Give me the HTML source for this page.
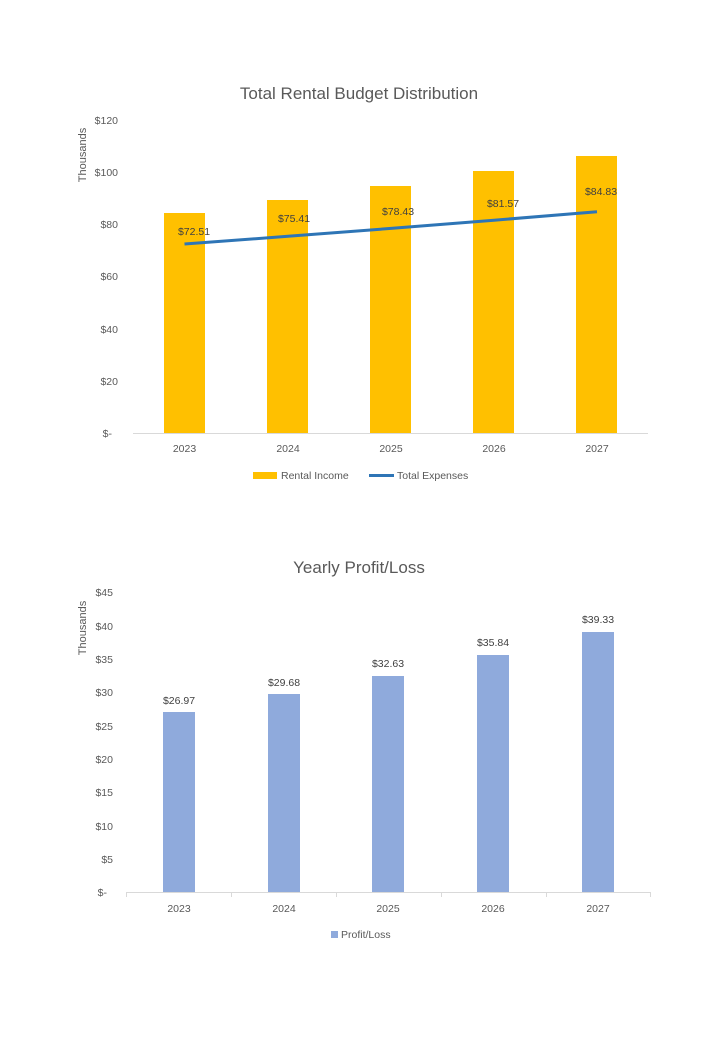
<!DOCTYPE html>
<html><head><meta charset="utf-8"><style>body{margin:0;background:#fff}svg{display:block}</style></head>
<body>
<svg width="720" height="1040" xmlns="http://www.w3.org/2000/svg" font-family="Liberation Sans, sans-serif">
<rect width="720" height="1040" fill="#fff"/>
<text x="359" y="99" text-anchor="middle" font-size="17" fill="#595959">Total Rental Budget Distribution</text>
<text transform="translate(86,155) rotate(-90)" text-anchor="middle" font-size="11" fill="#595959">Thousands</text>
<g font-size="10.5" fill="#595959" text-anchor="end">
<text x="118" y="124">$120</text><text x="118" y="176">$100</text><text x="118" y="228">$80</text>
<text x="118" y="280">$60</text><text x="118" y="333">$40</text><text x="118" y="385">$20</text><text x="112" y="437">$-</text>
</g>
<g fill="#FFC000">
<rect x="164" y="213" width="41" height="220"/><rect x="267" y="200" width="41" height="233"/>
<rect x="370" y="186" width="41" height="247"/><rect x="473" y="171" width="41" height="262"/>
<rect x="576" y="156" width="41" height="277"/>
</g>
<line x1="133" y1="433.5" x2="648" y2="433.5" stroke="#d9d9d9"/>
<polyline points="184.5,244 288,236.3 391,228.4 494,220.2 597,211.8" fill="none" stroke="#2E75B6" stroke-width="3"/>
<g font-size="10.5" fill="#404040" text-anchor="middle">
<text x="194" y="235">$72.51</text><text x="294" y="222">$75.41</text><text x="398" y="215">$78.43</text>
<text x="503" y="207">$81.57</text><text x="601" y="195">$84.83</text>
</g>
<g font-size="10.5" fill="#595959" text-anchor="middle">
<text x="184.5" y="452">2023</text><text x="288" y="452">2024</text><text x="391" y="452">2025</text><text x="494" y="452">2026</text><text x="597" y="452">2027</text>
</g>
<rect x="253" y="472" width="24" height="7" fill="#FFC000"/>
<text x="281" y="479" font-size="10.5" fill="#595959">Rental Income</text>
<line x1="369" y1="475.5" x2="394" y2="475.5" stroke="#2E75B6" stroke-width="3"/>
<text x="397" y="479" font-size="10.5" fill="#595959">Total Expenses</text>

<text x="359" y="573" text-anchor="middle" font-size="17" fill="#595959">Yearly Profit/Loss</text>
<text transform="translate(86,628) rotate(-90)" text-anchor="middle" font-size="11" fill="#595959">Thousands</text>
<g font-size="10.5" fill="#595959" text-anchor="end">
<text x="113" y="596">$45</text><text x="113" y="630">$40</text><text x="113" y="663">$35</text>
<text x="113" y="696">$30</text><text x="113" y="730">$25</text><text x="113" y="763">$20</text>
<text x="113" y="796">$15</text><text x="113" y="830">$10</text><text x="113" y="863">$5</text><text x="107" y="896">$-</text>
</g>
<g fill="#8FAADC">
<rect x="163" y="712" width="32" height="180"/><rect x="268" y="694" width="32" height="198"/>
<rect x="372" y="676" width="32" height="216"/><rect x="477" y="655" width="32" height="237"/>
<rect x="582" y="632" width="32" height="260"/>
</g>
<g stroke="#d9d9d9">
<line x1="126" y1="892.5" x2="651" y2="892.5"/>
<line x1="126.5" y1="892" x2="126.5" y2="897"/><line x1="231.5" y1="892" x2="231.5" y2="897"/>
<line x1="336.5" y1="892" x2="336.5" y2="897"/><line x1="441.5" y1="892" x2="441.5" y2="897"/>
<line x1="546.5" y1="892" x2="546.5" y2="897"/><line x1="650.5" y1="892" x2="650.5" y2="897"/>
</g>
<g font-size="10.5" fill="#404040" text-anchor="middle">
<text x="179" y="704">$26.97</text><text x="284" y="686">$29.68</text><text x="388" y="667">$32.63</text>
<text x="493" y="646">$35.84</text><text x="598" y="623">$39.33</text>
</g>
<g font-size="10.5" fill="#595959" text-anchor="middle">
<text x="179" y="912">2023</text><text x="284" y="912">2024</text><text x="388" y="912">2025</text><text x="493" y="912">2026</text><text x="598" y="912">2027</text>
</g>
<rect x="331" y="931" width="7" height="7" fill="#8FAADC"/>
<text x="341" y="938" font-size="10.5" fill="#595959">Profit/Loss</text>
</svg>
</body></html>
